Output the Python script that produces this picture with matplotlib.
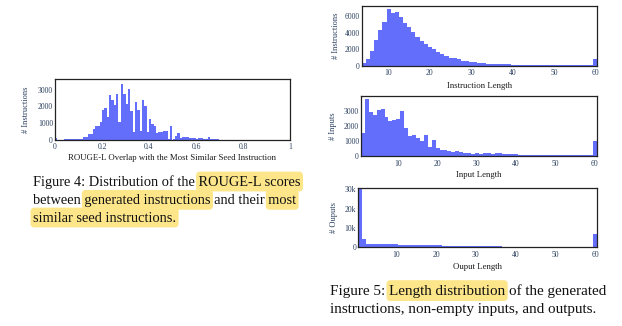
import numpy as np
import matplotlib
matplotlib.use('Agg')
import matplotlib.pyplot as plt
from matplotlib.patches import FancyBboxPatch

plt.rcParams['font.family'] = ['Liberation Serif', 'DejaVu Serif']

# ── data ──────────────────────────────────────────────────────────────────────
# Figure 4: ROUGE-L histogram, bins of width 0.01 starting at 0.00
rouge_bin_left = np.round(np.arange(0, 70) * 0.01, 2)
rouge_counts = [
    120, 0, 0, 0, 40, 40, 40, 40, 40, 40,
    40, 40, 200, 200, 350, 350, 650, 850, 850, 1050,
    1800, 1900, 1350, 2650, 2400, 2100, 2750, 1050, 3350, 2750,
    2150, 3050, 1750, 500, 2250, 1800, 550, 2400, 2000, 450,
    1250, 950, 850, 400, 500, 500, 550, 550, 50, 850,
    40, 250, 400, 100, 160, 160, 160, 120, 120, 120,
    60, 120, 120, 60, 40, 200, 30, 40, 40, 40,
]

# Figure 5: length histograms (60 = 60 and above)
instr_len = list(range(4, 61))
instr_counts = [
    400, 850, 1800, 3100, 4300, 5300, 6850, 6400, 6500, 5900,
    5200, 4700, 4100, 3500, 3000, 2650, 2300, 2050, 1650, 1400,
    1200, 1000, 1000, 800, 650, 550, 500, 450, 400, 380,
    300, 300, 300, 300, 300, 300, 150, 150, 150, 150,
    150, 150, 150, 150, 150, 150, 150, 150, 150, 150,
    150, 150, 150, 150, 150, 150, 850,
]

input_len = list(range(1, 61))
input_counts = [
    1570, 3800, 2950, 2700, 3070, 3130, 2580, 2300, 2400, 2470,
    3000, 1850, 1370, 1410, 1240, 1020, 1410, 620, 1080, 550,
    400, 400, 370, 300, 350, 280, 230, 200, 150, 200,
    150, 200, 200, 150, 200, 200, 150, 150, 150, 150,
    80, 80, 80, 80, 80, 80, 80, 80, 80, 80,
    80, 80, 80, 80, 80, 80, 80, 80, 80, 1000,
]

output_len = list(range(1, 61))
output_counts = [
    31000, 4500, 1700, 1700, 1700, 1700, 1700, 1700, 1700, 1700,
    1200, 1200, 1200, 1200, 1200, 1200, 1200, 1200, 1200, 1200,
    1200, 700, 700, 700, 700, 700, 700, 700, 700, 700,
    700, 700, 700, 700, 700, 700, 120, 120, 120, 120,
    120, 120, 120, 120, 120, 120, 120, 120, 120, 120,
    120, 120, 120, 120, 120, 120, 120, 120, 120, 6900,
]

length_ticks = [10, 20, 30, 40, 50, 60]

# caption lines: (text, highlighted) segments
fig4_lines = [
    [('Figure 4: Distribution of the ', False), ('ROUGE-L scores', True)],
    [('between ', False), ('generated instructions', True), (' and their ', False), ('most', True)],
    [('similar seed instructions.', True)],
]
fig5_lines = [
    [('Figure 5: ', False), ('Length distribution', True), (' of the generated', False)],
    [('instructions, non-empty inputs, and outputs.', False)],
]

# ── figure ────────────────────────────────────────────────────────────────────
W, H = 622, 326
fig = plt.figure(figsize=(W / 100, H / 100), dpi=100)

bg = fig.add_axes([0, 0, 1, 1])
bg.set_xlim(0, W); bg.set_ylim(H, 0)
bg.axis('off')

BAR = '#636efa'
TICK = '#2a3f5f'
HL_COLOR = '#fde68a'


def px_axes(x0, y0, x1, y1):
    return fig.add_axes([x0 / W, 1 - y1 / H, (x1 - x0) / W, (y1 - y0) / H])


def style(ax, xlabel, ylabel, xlab_y, ylab_x):
    for s in ax.spines.values():
        s.set_color('#222222')
        s.set_linewidth(0.9)
    ax.tick_params(length=0, labelsize=5.5, labelcolor=TICK)
    ax.tick_params(axis='x', pad=2.5)
    ax.tick_params(axis='y', pad=1.5)
    ax.set_xlabel(xlabel, fontsize=6.3, color='#1a1a1a')
    ax.set_ylabel(ylabel, fontsize=6, color=TICK)
    ax.xaxis.set_label_coords(0.5, xlab_y)
    ax.yaxis.set_label_coords(ylab_x, 0.5)


# Figure 4 chart
ax0 = px_axes(55, 79.5, 290, 140)
ax0.bar(rouge_bin_left, rouge_counts, width=0.01, align='edge', color=BAR, lw=0)
ax0.set_xlim(0, 1); ax0.set_ylim(0, 3600)
ax0.set_xticks([0, 0.2, 0.4, 0.6, 0.8, 1])
ax0.set_xticklabels(['0', '0.2', '0.4', '0.6', '0.8', '1'])
ax0.set_yticks([0, 1000, 2000, 3000])
style(ax0, 'ROUGE-L Overlap with the Most Similar Seed Instruction',
      '# Instructions', -0.23, -0.105)

# Figure 5 charts
ax1 = px_axes(361.7, 6, 597.3, 66)
ax1.bar(instr_len, instr_counts, width=1.0, color=BAR, lw=0)
ax1.set_xlim(3.5, 60.5); ax1.set_ylim(0, 7200)
ax1.set_xticks(length_ticks)
ax1.set_yticks([0, 2000, 4000, 6000])
style(ax1, 'Instruction Length', '# Instructions', -0.27, -0.094)

ax2 = px_axes(361, 95.7, 596.7, 156.3)
ax2.bar(input_len, input_counts, width=1.0, color=BAR, lw=0)
ax2.set_xlim(0.5, 60.5); ax2.set_ylim(0, 4000)
ax2.set_xticks(length_ticks)
ax2.set_yticks([0, 1000, 2000, 3000])
style(ax2, 'Input Length', '# Inputs', -0.25, -0.1)

ax3 = px_axes(358.3, 188.3, 597.3, 247.3)
ax3.bar(output_len, output_counts, width=1.0, color=BAR, lw=0)
ax3.set_xlim(0.5, 60.5); ax3.set_ylim(0, 30500)
ax3.set_xticks(length_ticks)
ax3.set_yticks([0, 10000, 20000, 30000])
ax3.set_yticklabels(['0', '10k', '20k', '30k'])
style(ax3, 'Ouput Length', '# Ouputs', -0.266, -0.083)

# ── captions: one text per line, highlight boxes measured behind phrases ─────
renderer = fig.canvas.get_renderer()


def text_width(s, size):
    t = bg.text(0, 0, s, fontsize=size)
    w = t.get_window_extent(renderer).width
    t.remove()
    return w


def caption_line(x, y, segments, size):
    line = ''.join(s for s, _ in segments)
    bg.text(x, y, line, fontsize=size, color='#111111', ha='left', va='baseline', zorder=3)
    prefix = ''
    for seg, hl in segments:
        prefix += seg
        if hl:
            x1 = x + text_width(prefix, size)
            x0 = x1 - text_width(seg, size)
            x0, x1 = x0 - 2.5, x1 + 2.5
            top, bot = y - 0.98 * size * 1.389, y + 0.4 * size * 1.389
            bg.add_patch(FancyBboxPatch((x0, top), x1 - x0, bot - top,
                                        boxstyle='round,pad=0,rounding_size=4',
                                        fc=HL_COLOR, ec='none', zorder=2))


caption_line(33, 185.7, fig4_lines[0], 10.35)
caption_line(33, 204, fig4_lines[1], 10.35)
caption_line(33, 221.7, fig4_lines[2], 10.35)

caption_line(330, 295, fig5_lines[0], 10.9)
caption_line(330, 312.7, fig5_lines[1], 10.9)

fig.savefig('out.png', dpi=100)
